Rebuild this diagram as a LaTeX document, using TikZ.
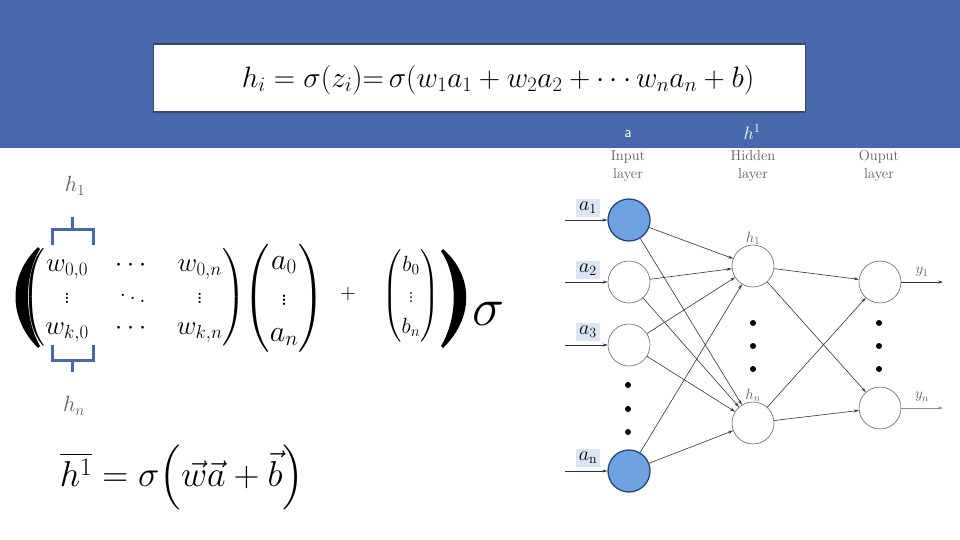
\RequirePackage{fix-cm}
\documentclass[tikz,border=0pt]{standalone}
\usepackage{amsmath, amssymb, bm}
\usepackage{tikz}
\usetikzlibrary{arrows.meta, positioning, calc}
\usepackage{xcolor}

\definecolor{bandblue}{RGB}{72,104,172}
\definecolor{boxedge}{RGB}{60,70,100}
\definecolor{neuronblue}{RGB}{111,162,224}
\definecolor{neuronedge}{RGB}{40,70,120}
\definecolor{labelbg}{RGB}{220,230,242}
\definecolor{labelgray}{RGB}{95,95,95}

\begin{document}
\begin{tikzpicture}[
    x=1pt, y=-1pt,
    >=Stealth,
    neuron/.style={circle, draw=gray!80!black, fill=white, minimum size=42pt, inner sep=0pt, line width=0.6pt},
    inneuron/.style={neuron, draw=neuronedge, fill=neuronblue, line width=1.3pt},
    inlabel/.style={fill=labelbg, inner sep=3pt, font=\fontsize{20}{20}\selectfont},
    layerlabel/.style={align=center, text=labelgray, font=\fontsize{14.5}{18}\selectfont},
    unitlabel/.style={text=labelgray, inner sep=1pt, font=\fontsize{15}{15}\selectfont},
    link/.style={-{Stealth[length=5pt,width=3pt]}, draw=black!80, line width=0.6pt},
    vdot/.style={circle, fill=black, minimum size=6pt, inner sep=0pt},
    bracket/.style={draw=bandblue, line width=3pt}
    ]

    % --- Fondo y barra de titulo ---
    \useasboundingbox (0,0) rectangle (960,540);
    \fill[white] (0,0) rectangle (960,540);
    \fill[bandblue] (0,0) rectangle (960,148);

    \node (formbox) [draw=boxedge, fill=white, line width=1.5pt, minimum width=652pt, minimum height=68pt] at (479.5,78) {};
    \node (formula) [font=\fontsize{29.5}{29.5}\selectfont] at (498,80)
        {$h_i = \sigma(z_i){=}\,\sigma(w_1a_1 + w_2a_2 + \cdots w_na_n + b)$};

    \node (alabel) [text=white, font=\sffamily\fontsize{16}{16}\selectfont] at (628,134) {a};
    \node (hlabel) [text=white, font=\fontsize{18}{18}\selectfont] at (752,132) {$h^1$};

    % --- Red neuronal ---
    \node (inlayer) [layerlabel] at (628,166) {Input\\layer};
    \node (hidlayer) [layerlabel] at (753,166) {Hidden\\layer};
    \node (outlayer) [layerlabel] at (879,166) {Ouput\\layer};

    \node (a1) [inneuron] at (629,220) {};
    \node (a2) [neuron] at (629,282) {};
    \node (a3) [neuron] at (629,345) {};
    \node (an) [inneuron] at (629,471) {};

    \node (h1) [neuron] at (753,266) {};
    \node (hn) [neuron] at (753,423) {};

    \node (y1) [neuron] at (880,282) {};
    \node (yn) [neuron] at (880,408) {};

    \node (din1) [vdot] at (628,385) {};
    \node (din2) [vdot] at (628,409) {};
    \node (din3) [vdot] at (628,432) {};
    \node (dhid1) [vdot] at (753,323) {};
    \node (dhid2) [vdot] at (753,346) {};
    \node (dhid3) [vdot] at (753,369) {};
    \node (dout1) [vdot] at (879,323) {};
    \node (dout2) [vdot] at (879,346) {};
    \node (dout3) [vdot] at (879,369) {};

    \node (la1) [inlabel] at (588,208) {$a_1$};
    \node (la2) [inlabel] at (588,270) {$a_2$};
    \node (la3) [inlabel] at (588,332) {$a_3$};
    \node (lan) [inlabel] at (588,458) {$a_{\mathrm{n}}$};

    \node (lh1) [unitlabel, above=-1pt of h1] {$h_1$};
    \node (lhn) [unitlabel, above=-1pt of hn] {$h_n$};
    \node (ly1) [unitlabel] at (922,272) {$y_1$};
    \node (lyn) [unitlabel] at (922,397) {$y_n$};

    % --- Entradas y salidas ---
    \coordinate (in1) at (565,220);
    \coordinate (in2) at (565,282);
    \coordinate (in3) at (565,345);
    \coordinate (inn) at (565,471);
    \coordinate (out1) at (943,282);
    \coordinate (outn) at (943,408);

    \draw[link] (in1) -- (a1);
    \draw[link] (in2) -- (a2);
    \draw[link] (in3) -- (a3);
    \draw[link] (inn) -- (an);
    \draw[link] (y1) -- (out1);
    \draw[link, draw=black!45] (yn) -- (outn);

    % --- Conexiones ---
    \draw[link] (a1) -- (h1);
    \draw[link] (a1) -- (hn);
    \draw[link] (a2) -- (h1);
    \draw[link] (a2) -- (hn);
    \draw[link] (a3) -- (h1);
    \draw[link] (a3) -- (hn);
    \draw[link] (an) -- (h1);
    \draw[link] (an) -- (hn);
    \draw[link] (h1) -- (y1);
    \draw[link] (h1) -- (yn);
    \draw[link] (hn) -- (y1);
    \draw[link] (hn) -- (yn);

    % --- Forma matricial ---
    \node (mh1) [text=labelgray, font=\fontsize{22}{22}\selectfont] at (75,186) {$h_1$};
    \node (mhn) [text=labelgray, font=\fontsize{22}{22}\selectfont] at (74,406) {$h_n$};

    \draw[bracket] (52,245) -- (52,229) -- (93,229) -- (93,245);
    \draw[bracket] (72,229) -- (72,217);
    \draw[bracket] (52,345) -- (52,360) -- (93,360) -- (93,345);
    \draw[bracket] (72,360) -- (72,372);

    \node (wmat) [inner sep=0pt, font=\fontsize{27}{31.5}\selectfont] at (134,297)
        {$\setlength{\arraycolsep}{13pt}\begin{pmatrix}
            w_{0,0} & \cdots & w_{0,n}\\
            \vdots & \ddots & \vdots\\
            w_{k,0} & \cdots & w_{k,n}
        \end{pmatrix}$};
    \node (avec) [inner sep=0pt, font=\fontsize{30}{36}\selectfont] at (284,298)
        {$\begin{pmatrix} a_0\\ \vdots\\ a_n \end{pmatrix}$};
    \node (plus) [inner sep=0pt, font=\fontsize{22}{22}\selectfont] at (348,294) {$+$};
    \node (bvec) [inner sep=0pt, font=\fontsize{22}{31}\selectfont] at (411,296)
        {$\begin{pmatrix} b_0\\ \vdots\\ b_n \end{pmatrix}$};

    \fill (38,247) .. controls (8,276) and (8,318) .. (38,348)
        -- (40,346) .. controls (24,318) and (24,276) .. (40,249) -- cycle;
    \fill (443,249) .. controls (474,276) and (474,318) .. (443,348)
        -- (441,346) .. controls (458,318) and (458,276) .. (441,251) -- cycle;

    \node (sigma) [inner sep=0pt, font=\fontsize{54}{54}\selectfont] at (488,314) {$\sigma$};

    % --- Forma vectorial ---
    \node (hvec) [font=\fontsize{36}{36}\selectfont] at (182,477)
        {$\overline{h^1} = \sigma\Big(\vec{w}\vec{a} + \vec{b}\Big)$};

\end{tikzpicture}
\end{document}
